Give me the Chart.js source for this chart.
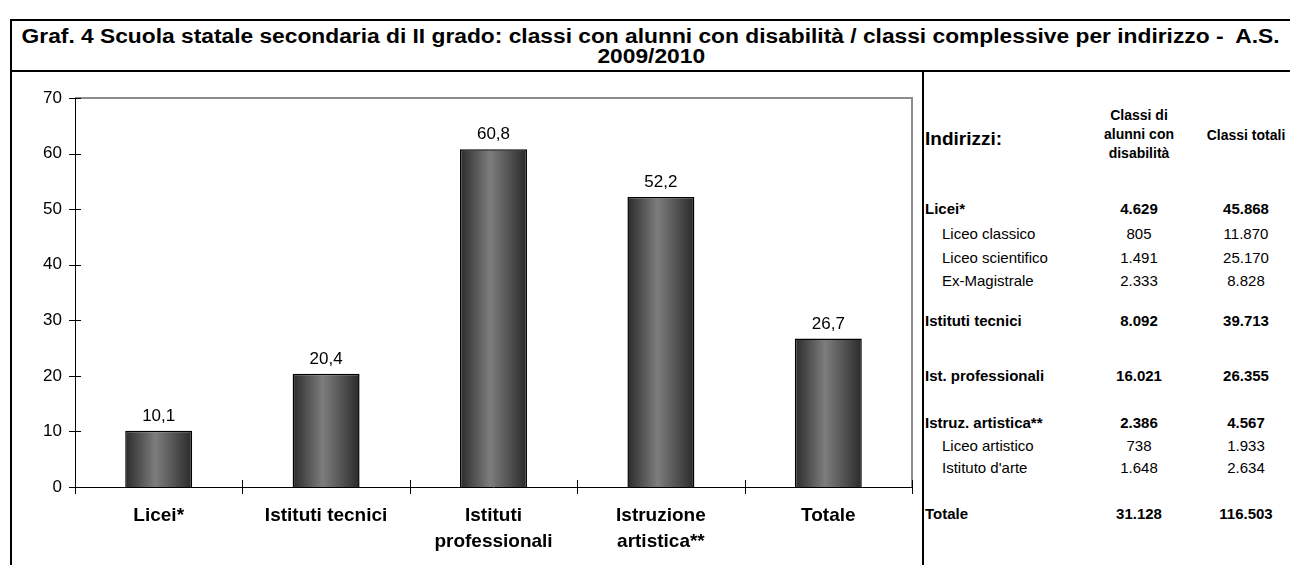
<!DOCTYPE html>
<html>
<head>
<meta charset="utf-8">
<script src="https://cdn.jsdelivr.net/npm/chart.js@4.4.0/dist/chart.umd.min.js"></script>
<style>
  html, body { margin: 0; padding: 0; background: #fff; }
  body { width: 1290px; height: 565px; position: relative; overflow: hidden; font-family: "Liberation Sans", Arial, sans-serif; color: #000; }
  .line { position: absolute; background: #000; }
  #title { position: absolute; left: 12px; top: 26px; width: 1278px; text-align: center; font-weight: bold; font-size: 20px; line-height: 20px; }
  #title span { display: inline-block; transform-origin: 50% 50%; white-space: nowrap; }
  #chartBox { position: absolute; left: 12px; top: 72px; width: 906px; height: 493px; }
  .cell { position: absolute; white-space: nowrap; transform: translateY(-50%); }
  .c { text-align: center; width: 120px; }
</style>
</head>
<body>
<div class="line" style="left:10px; top:19px; width:1280px; height:2px;"></div>
<div class="line" style="left:10px; top:70px; width:1280px; height:2px;"></div>
<div class="line" style="left:10px; top:19px; width:2px; height:546px;"></div>
<div class="line" style="left:922px; top:70px; width:2px; height:495px;"></div>
<div id="title"><span id="t1">Graf. 4 Scuola statale secondaria di II grado: classi con alunni con disabilità / classi complessive per indirizzo -&nbsp; A.S.</span><br><span id="t2">2009/2010</span></div>
<div id="chartBox"><canvas id="c"></canvas></div>
<div id="table"></div>
<script>
// ---- chart data ----
const categories = ["Licei*", "Istituti tecnici", ["Istituti", "professionali"], ["Istruzione", "artistica**"], "Totale"];
const ratioValues = [10.1, 20.4, 60.8, 52.2, 26.7];
const yTicks = [0, 10, 20, 30, 40, 50, 60, 70];

// ---- table data ----
const tableLabels = ["Licei*", "Liceo classico", "Liceo scientifico", "Ex-Magistrale", "Istituti tecnici", "Ist. professionali", "Istruz. artistica**", "Liceo artistico", "Istituto d'arte", "Totale"];
const tableDisab = ["4.629", "805", "1.491", "2.333", "8.092", "16.021", "2.386", "738", "1.648", "31.128"];
const tableTotal = ["45.868", "11.870", "25.170", "8.828", "39.713", "26.355", "4.567", "1.933", "2.634", "116.503"];
const tableMain = [true, false, false, false, true, true, true, false, false, true];
const tableHeaders = ["Indirizzi:", "Classi di\nalunni con\ndisabilità", "Classi totali"];

// ---- title horizontal fit ----
(function fitTitle() {
  const t1 = document.getElementById('t1'), t2 = document.getElementById('t2');
  const k = 1258 / t1.getBoundingClientRect().width;
  t1.style.transform = 'scaleX(' + k + ')';
  t2.style.transform = 'scaleX(' + k + ')';
})();

// ---- table layout ----
(function buildTable() {
  const t = document.getElementById('table');
  const rowY = [208, 233, 257, 280, 320, 375, 422, 445, 467, 513];
  const col1 = 1139, col2 = 1246;
  function add(html, style, cls) {
    const d = document.createElement('div');
    d.className = 'cell ' + (cls || '');
    d.innerHTML = html;
    d.setAttribute('style', style);
    t.appendChild(d);
  }
  add(tableHeaders[0], 'left:925px; top:139px; font-weight:bold; font-size:19px;');
  add(tableHeaders[1].split('\n').join('<br>'), 'left:' + (col1 - 60) + 'px; top:134px; font-weight:bold; font-size:14px; line-height:19px;', 'c');
  add(tableHeaders[2], 'left:' + (col2 - 60) + 'px; top:135px; font-weight:bold; font-size:14px;', 'c');
  tableLabels.forEach((lab, i) => {
    const main = tableMain[i];
    const fw = main ? 'bold' : 'normal';
    const fs = 15;
    add(lab, 'left:' + (main ? 925 : 942) + 'px; top:' + rowY[i] + 'px; font-weight:' + fw + '; font-size:' + fs + 'px;');
    add(tableDisab[i], 'left:' + (col1 - 60) + 'px; top:' + rowY[i] + 'px; font-weight:' + fw + '; font-size:' + fs + 'px;', 'c');
    add(tableTotal[i], 'left:' + (col2 - 60) + 'px; top:' + rowY[i] + 'px; font-weight:' + fw + '; font-size:' + fs + 'px;', 'c');
  });
})();

// ---- plugins ----
const barStyle = {
  id: 'barStyle',
  beforeDatasetsDraw(chart) {
    const ctx = chart.ctx;
    chart.getDatasetMeta(0).data.forEach(bar => {
      const half = bar.width / 2;
      const g = ctx.createLinearGradient(bar.x - half, 0, bar.x + half, 0);
      g.addColorStop(0, '#2b2b2b');
      g.addColorStop(0.45, '#7d7d7d');
      g.addColorStop(1, '#2a2a2a');
      bar.options = Object.assign({}, bar.options, { backgroundColor: g });
    });
  },
  afterDatasetsDraw(chart) {
    const ctx = chart.ctx;
    const ds = chart.data.datasets[0];
    ctx.save();
    ctx.font = '17px "Liberation Sans", Arial, sans-serif';
    ctx.fillStyle = '#000';
    ctx.textAlign = 'center';
    ctx.textBaseline = 'bottom';
    chart.getDatasetMeta(0).data.forEach((bar, i) => {
      ctx.fillText(ds.data[i].toFixed(1).replace('.', ','), bar.x, bar.y - 6);
    });
    ctx.restore();
  },
  afterDraw(chart) {
    const ctx = chart.ctx;
    const a = chart.chartArea;
    const ys = chart.scales.y, xs = chart.scales.x;
    ctx.save();
    ctx.strokeStyle = '#8c8c8c';
    ctx.lineWidth = 2;
    ctx.beginPath();
    ctx.moveTo(a.left, a.top);
    ctx.lineTo(a.right, a.top);
    ctx.lineTo(a.right, a.bottom);
    ctx.stroke();
    ctx.strokeStyle = '#000';
    ctx.lineWidth = 1;
    ctx.beginPath();
    ctx.moveTo(a.left + 0.5, a.top);
    ctx.lineTo(a.left + 0.5, a.bottom);
    ctx.moveTo(a.left, a.bottom + 0.5);
    ctx.lineTo(a.right, a.bottom + 0.5);
    yTicks.forEach(v => {
      const y = Math.round(ys.getPixelForValue(v)) + 0.5;
      ctx.moveTo(a.left - 6, y);
      ctx.lineTo(a.left + 6, y);
    });
    for (let i = 0; i <= categories.length; i++) {
      const x = Math.round(xs.getPixelForValue(i - 0.5)) + 0.5;
      ctx.moveTo(x, a.bottom - 7);
      ctx.lineTo(x, a.bottom + 7);
    }
    ctx.stroke();
    ctx.restore();
  }
};

new Chart(document.getElementById('c'), {
  type: 'bar',
  data: {
    labels: categories,
    datasets: [{
      data: ratioValues,
      backgroundColor: '#555',
      borderColor: '#000',
      borderWidth: 1.5,
      barPercentage: 0.4,
      categoryPercentage: 1.0
    }]
  },
  options: {
    responsive: true,
    maintainAspectRatio: false,
    animation: false,
    layout: { padding: { top: 26, right: 6, left: 0, bottom: 0 } },
    plugins: { legend: { display: false }, tooltip: { enabled: false }, title: { display: false } },
    scales: {
      x: {
        grid: { display: false, drawTicks: false },
        border: { display: false },
        afterFit(s) { s.height = 78; },
        ticks: {
          padding: 16,
          color: '#000',
          maxRotation: 0,
          autoSkip: false,
          font: { family: '"Liberation Sans", Arial, sans-serif', size: 19, weight: 'bold', lineHeight: 1.36 }
        }
      },
      y: {
        min: 0,
        max: 70,
        afterBuildTicks(s) { s.ticks = yTicks.map(v => ({ value: v })); },
        grid: { display: false, drawTicks: false },
        border: { display: false },
        afterFit(s) { s.width = 63; },
        ticks: {
          padding: 13,
          color: '#000',
          font: { family: '"Liberation Sans", Arial, sans-serif', size: 17 }
        }
      }
    }
  },
  plugins: [barStyle]
});
</script>
</body>
</html>
